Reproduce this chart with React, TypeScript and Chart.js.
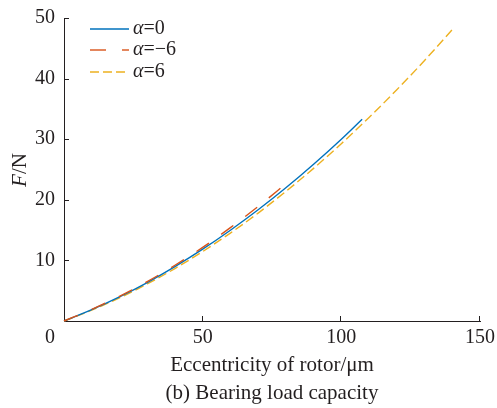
import React, { useEffect, useRef } from "react";
import { Chart, registerables } from "chart.js";

Chart.register(...registerables);

// Data
const alpha0X = [0, 10, 20, 30, 40, 50, 60, 70, 80, 90, 100, 107.5];
const alpha0Y = [0, 1.87, 3.98, 6.35, 8.98, 11.85, 14.98, 18.35, 21.98, 25.87, 30.0, 33.3];
const alphaNeg6X = [0, 10, 20, 30, 40, 50, 60, 70, 80.3];
const alphaNeg6Y = [0, 1.92, 4.08, 6.5, 9.2, 12.15, 15.4, 18.9, 22.75];
const alpha6X = [0, 10, 20, 30, 40, 50, 60, 70, 80, 90, 100, 110, 120, 130, 140.4];
const alpha6Y = [0, 1.78, 3.82, 6.11, 8.66, 11.46, 14.51, 17.81, 21.38, 25.19, 29.26, 33.59, 38.16, 42.99, 48.3];

const xTicks = [0, 50, 100, 150];
const yTicks = [10, 20, 30, 40, 50];
const legendLabels = ["=0", "=\u22126", "=6"];
const xTitle = "Eccentricity of rotor/\u03bcm";
const caption = "(b) Bearing load capacity";

const BLUE = "#0072BD";
const RED = "#D95319";
const ORANGE = "#EDB120";
const FONT = "'Liberation Serif', 'Times New Roman', serif";
const TEXT = "#231f20";

const toPts = (xs: number[], ys: number[]) => xs.map((x, i) => ({ x, y: ys[i] }));

const decorPlugin = {
  id: "decor",
  afterDraw(chart: any) {
    const ctx = chart.ctx as CanvasRenderingContext2D;
    const xs = chart.scales.x;
    const ys = chart.scales.y;
    const area = chart.chartArea;
    ctx.save();
    // inward ticks
    ctx.strokeStyle = TEXT;
    ctx.lineWidth = 1;
    ctx.beginPath();
    yTicks.forEach((v) => {
      const py = Math.round(ys.getPixelForValue(v)) + 0.5;
      ctx.moveTo(area.left, py);
      ctx.lineTo(area.left + 5, py);
    });
    xTicks.forEach((v) => {
      if (v === 0) return;
      const px = Math.round(xs.getPixelForValue(v)) - 0.5;
      ctx.moveTo(px, area.bottom);
      ctx.lineTo(px, area.bottom - 5);
    });
    ctx.stroke();

    ctx.fillStyle = TEXT;
    // tick labels
    ctx.font = `20px ${FONT}`;
    ctx.textBaseline = "middle";
    ctx.textAlign = "right";
    yTicks.forEach((v) => {
      ctx.fillText(String(v), area.left - 9, ys.getPixelForValue(v));
    });
    ctx.textAlign = "center";
    xTicks.forEach((v) => {
      const px = v === 0 ? xs.getPixelForValue(v) - 14 : xs.getPixelForValue(v);
      ctx.fillText(String(v), px, area.bottom + 17);
    });

    // x title and caption
    ctx.font = `21px ${FONT}`;
    ctx.fillText(xTitle, 272, 365);
    ctx.fillText(caption, 272, 393);

    // y title F/N rotated
    ctx.save();
    ctx.translate(20, 170);
    ctx.rotate(-Math.PI / 2);
    ctx.font = `italic 21px ${FONT}`;
    const wF = ctx.measureText("F").width;
    ctx.font = `21px ${FONT}`;
    const wN = ctx.measureText("/N").width;
    const start = -(wF + wN) / 2;
    ctx.textAlign = "left";
    ctx.font = `italic 21px ${FONT}`;
    ctx.fillText("F", start, 0);
    ctx.font = `21px ${FONT}`;
    ctx.fillText("/N", start + wF, 0);
    ctx.restore();

    // legend
    const rows = [
      { color: BLUE, dash: [] as number[], y: 29 },
      { color: RED, dash: [16, 16], y: 50 },
      { color: ORANGE, dash: [9, 4], y: 72 },
    ];
    rows.forEach((r, i) => {
      ctx.save();
      ctx.strokeStyle = r.color;
      ctx.lineWidth = 1.4;
      ctx.setLineDash(r.dash);
      ctx.beginPath();
      ctx.moveTo(90, r.y);
      ctx.lineTo(129, r.y);
      ctx.stroke();
      ctx.restore();
      ctx.textAlign = "left";
      ctx.textBaseline = "middle";
      ctx.font = `italic 20px ${FONT}`;
      ctx.fillText("\u03b1", 133, r.y);
      const wa = ctx.measureText("\u03b1").width;
      ctx.font = `20px ${FONT}`;
      ctx.fillText(legendLabels[i], 133 + wa, r.y);
    });
    ctx.restore();
  },
};

export default function App() {
  const ref = useRef<HTMLCanvasElement | null>(null);
  useEffect(() => {
    if (!ref.current) return;
    const chart = new Chart(ref.current, {
      type: "line",
      data: {
        datasets: [
          {
            label: "α=−6",
            data: toPts(alphaNeg6X, alphaNeg6Y),
            borderColor: RED,
            borderWidth: 1.4,
            borderDash: [15, 15],
            pointRadius: 0,
            cubicInterpolationMode: "monotone",
            clip: false as any,
          },
          {
            label: "α=0",
            data: toPts(alpha0X, alpha0Y),
            borderColor: BLUE,
            borderWidth: 1.4,
            pointRadius: 0,
            cubicInterpolationMode: "monotone",
            clip: false as any,
          },
          {
            label: "α=6",
            data: toPts(alpha6X, alpha6Y),
            borderColor: ORANGE,
            borderWidth: 1.4,
            borderDash: [9, 4],
            pointRadius: 0,
            cubicInterpolationMode: "monotone",
            clip: false as any,
          },
        ],
      },
      options: {
        animation: false,
        responsive: false,
        devicePixelRatio: 1,
        layout: { padding: { top: 18, right: 17, left: 0, bottom: 0 } },
        plugins: { legend: { display: false }, tooltip: { enabled: false } },
        scales: {
          x: {
            type: "linear",
            min: 0,
            max: 150,
            afterFit: (s: any) => {
              s.height = 87;
            },
            ticks: { display: false },
            grid: { display: false, drawTicks: false },
            border: { display: true, color: TEXT, width: 1 },
          },
          y: {
            type: "linear",
            min: 0,
            max: 50,
            afterFit: (s: any) => {
              s.width = 64;
            },
            ticks: { display: false },
            grid: { display: false, drawTicks: false },
            border: { display: true, color: TEXT, width: 1 },
          },
        },
      },
      plugins: [decorPlugin],
    });
    return () => chart.destroy();
  }, []);
  return (
    <div style={{ position: "absolute", left: 0, top: 0, width: 497, height: 408, background: "#fff" }}>
      <canvas ref={ref} width={497} height={408} style={{ width: 497, height: 408 }} />
    </div>
  );
}
